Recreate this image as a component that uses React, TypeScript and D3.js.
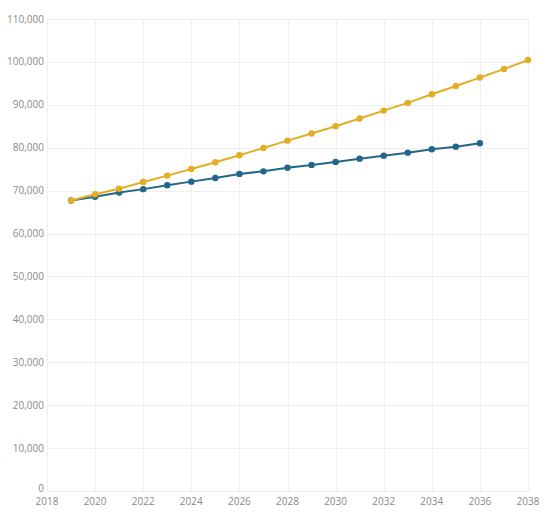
import * as d3 from "d3";
import { useEffect, useRef } from "react";

const YEARS_A = [2019, 2020, 2021, 2022, 2023, 2024, 2025, 2026, 2027, 2028, 2029, 2030, 2031, 2032, 2033, 2034, 2035, 2036, 2037, 2038];
const SERIES_A = [67700, 69150, 70450, 72000, 73500, 75050, 76600, 78250, 79950, 81650, 83300, 85000, 86800, 88650, 90450, 92450, 94400, 96350, 98350, 100450];
const YEARS_B = [2019, 2020, 2021, 2022, 2023, 2024, 2025, 2026, 2027, 2028, 2029, 2030, 2031, 2032, 2033, 2034, 2035, 2036];
const SERIES_B = [67700, 68550, 69550, 70350, 71250, 72100, 72950, 73900, 74500, 75350, 76000, 76700, 77450, 78150, 78850, 79650, 80250, 81050];
const X_TICKS = [2018, 2020, 2022, 2024, 2026, 2028, 2030, 2032, 2034, 2036, 2038];
const Y_TICKS = [0, 10000, 20000, 30000, 40000, 50000, 60000, 70000, 80000, 90000, 100000, 110000];

const COLOR_A = "#E3AE24";
const COLOR_B = "#22668A";

export default function App() {
  const ref = useRef<SVGSVGElement | null>(null);
  useEffect(() => {
    if (!ref.current) return;
    const svg = d3.select(ref.current);
    svg.selectAll("*").remove();
    const margin = { top: 19, right: 26, bottom: 36, left: 47 };
    const width = 554;
    const height = 527;

    const x = d3.scaleLinear().domain([2018, 2038]).range([margin.left, width - margin.right]);
    const y = d3.scaleLinear().domain([0, 110000]).range([height - margin.bottom, margin.top]);

    const grid = svg.append("g").attr("stroke", "#efefef").attr("stroke-width", 1);
    grid.selectAll("line.v")
      .data(X_TICKS)
      .join("line")
      .attr("class", "v")
      .attr("x1", (d) => Math.round(x(d)) + 0.5)
      .attr("x2", (d) => Math.round(x(d)) + 0.5)
      .attr("y1", margin.top)
      .attr("y2", height - margin.bottom);
    grid.selectAll("line.h")
      .data(Y_TICKS)
      .join("line")
      .attr("class", "h")
      .attr("x1", margin.left)
      .attr("x2", width - margin.right)
      .attr("y1", (d) => Math.round(y(d)) + 0.5)
      .attr("y2", (d) => Math.round(y(d)) + 0.5);

    const fmt = d3.format(",");
    svg.append("g")
      .selectAll("text")
      .data(Y_TICKS)
      .join("text")
      .attr("x", margin.left - 3)
      .attr("y", (d) => y(d))
      .attr("dy", (d) => (d === 0 ? "0.05em" : "0.35em"))
      .attr("text-anchor", "end")
      .attr("fill", "#8a8a8a")
      .attr("font-family", "'Open Sans', sans-serif")
      .attr("font-size", 10)
      .text((d) => fmt(d));

    svg.append("g")
      .selectAll("text")
      .data(X_TICKS)
      .join("text")
      .attr("x", (d) => x(d))
      .attr("y", height - margin.bottom + 14)
      .attr("text-anchor", "middle")
      .attr("fill", "#8a8a8a")
      .attr("font-family", "'Open Sans', sans-serif")
      .attr("font-size", 10)
      .text((d) => String(d));

    const series = [
      { years: YEARS_B, values: SERIES_B, color: COLOR_B },
      { years: YEARS_A, values: SERIES_A, color: COLOR_A },
    ];
    series.forEach((s) => {
      const pts = s.years.map((yr, i) => [yr, s.values[i]] as [number, number]);
      const line = d3.line<[number, number]>().x((d) => x(d[0])).y((d) => y(d[1]));
      svg.append("path")
        .attr("d", line(pts))
        .attr("fill", "none")
        .attr("stroke", s.color)
        .attr("stroke-width", 2);
      svg.append("g")
        .selectAll("circle")
        .data(pts)
        .join("circle")
        .attr("cx", (d) => x(d[0]))
        .attr("cy", (d) => y(d[1]))
        .attr("r", 3.2)
        .attr("fill", s.color);
    });
  }, []);
  return (
    <svg
      ref={ref}
      width={541}
      height={527}
      style={{ position: "absolute", left: 0, top: 0, background: "#fff", overflow: "hidden" }}
    />
  );
}
